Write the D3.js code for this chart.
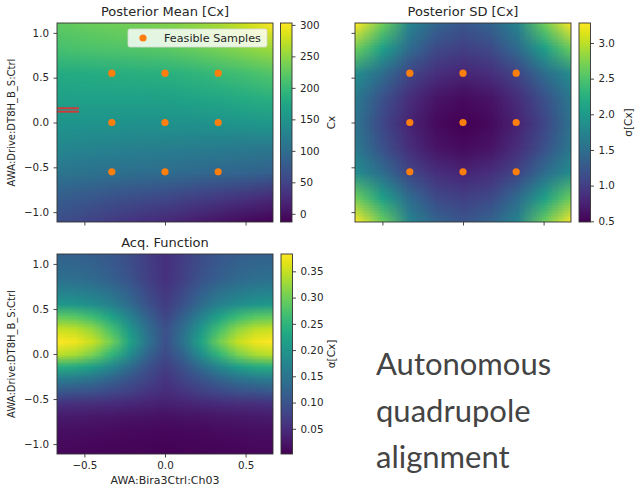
<!DOCTYPE html>
<html><head><meta charset="utf-8">
<script src="https://cdn.jsdelivr.net/npm/d3@7"></script>
<style>
body{margin:0;background:#fff}
svg{display:block}
text{font-family:"DejaVu Sans",sans-serif;fill:#262626}
</style>
</head><body>
<svg id="c" width="641" height="491"></svg>
<script>
// ---------- data ----------
const xDomain = [-0.67, 0.67];
const yDomain = [-1.11, 1.11];
const xNodes = [-0.67, -0.5025, -0.335, -0.1675, 0, 0.1675, 0.335, 0.5025, 0.67];
const yNodes = [1.11, 0.8325, 0.555, 0.2775, 0, -0.2775, -0.555, -0.8325, -1.11];
const meanGrid = [
  [225, 229, 233, 237, 242, 250, 262, 280, 303],
  [210, 213, 216, 219, 222, 229, 238, 248, 258],
  [180, 182, 184, 186, 188, 193, 200, 209, 218],
  [165, 166, 167, 167, 168, 171, 175, 181, 188],
  [152, 150, 149, 148, 147, 148, 150, 153, 157],
  [133, 130, 127, 124, 122, 120, 118, 116, 114],
  [110, 106, 103, 100, 97, 94, 90, 87, 83],
  [80, 74, 67, 61, 55, 48, 40, 32, 24],
  [60, 50, 41, 31, 22, 12, 3, -6, -13]
];
const sdGrid = [
  [3.28, 2.65, 1.75, 1.38, 1.24, 1.38, 1.75, 2.65, 3.28],
  [2.65, 2.05, 1.45, 1.12, 1.02, 1.12, 1.45, 2.05, 2.65],
  [1.85, 1.48, 1.07, 0.87, 0.78, 0.87, 1.07, 1.48, 1.85],
  [1.62, 1.18, 0.86, 0.64, 0.57, 0.64, 0.86, 1.18, 1.62],
  [1.55, 1.08, 0.77, 0.56, 0.49, 0.56, 0.77, 1.08, 1.55],
  [1.62, 1.18, 0.86, 0.64, 0.57, 0.64, 0.86, 1.18, 1.62],
  [1.85, 1.48, 1.07, 0.87, 0.78, 0.87, 1.07, 1.48, 1.85],
  [2.65, 2.05, 1.45, 1.12, 1.02, 1.12, 1.45, 2.05, 2.65],
  [3.28, 2.65, 1.75, 1.38, 1.24, 1.38, 1.75, 2.65, 3.28]
];
const acqXNodes = [-0.67, -0.558, -0.447, -0.335, -0.223, -0.112, 0, 0.112, 0.223, 0.335, 0.447, 0.558, 0.67];
const acqYNodes = [1.11, 0.971, 0.833, 0.694, 0.555, 0.416, 0.278, 0.139, 0, -0.139, -0.278, -0.416, -0.555, -0.694, -0.833, -0.971, -1.11];
const acqGrid = [
  [0.120, 0.120, 0.115, 0.105, 0.090, 0.070, 0.055, 0.070, 0.090, 0.105, 0.115, 0.120, 0.120],
  [0.130, 0.128, 0.122, 0.110, 0.094, 0.072, 0.055, 0.072, 0.094, 0.110, 0.122, 0.128, 0.130],
  [0.143, 0.140, 0.132, 0.118, 0.100, 0.075, 0.055, 0.075, 0.100, 0.118, 0.132, 0.140, 0.143],
  [0.170, 0.167, 0.158, 0.142, 0.118, 0.087, 0.062, 0.087, 0.118, 0.142, 0.158, 0.167, 0.170],
  [0.205, 0.200, 0.188, 0.166, 0.135, 0.098, 0.070, 0.098, 0.135, 0.166, 0.188, 0.200, 0.205],
  [0.290, 0.284, 0.262, 0.222, 0.172, 0.120, 0.082, 0.120, 0.172, 0.222, 0.262, 0.284, 0.290],
  [0.352, 0.345, 0.320, 0.270, 0.205, 0.140, 0.095, 0.140, 0.205, 0.270, 0.320, 0.345, 0.352],
  [0.383, 0.375, 0.350, 0.300, 0.225, 0.150, 0.095, 0.150, 0.225, 0.300, 0.350, 0.375, 0.383],
  [0.345, 0.335, 0.305, 0.255, 0.190, 0.125, 0.088, 0.125, 0.190, 0.255, 0.305, 0.335, 0.345],
  [0.240, 0.233, 0.212, 0.178, 0.136, 0.098, 0.072, 0.098, 0.136, 0.178, 0.212, 0.233, 0.240],
  [0.160, 0.155, 0.142, 0.122, 0.100, 0.080, 0.060, 0.080, 0.100, 0.122, 0.142, 0.155, 0.160],
  [0.105, 0.100, 0.095, 0.085, 0.075, 0.060, 0.050, 0.060, 0.075, 0.085, 0.095, 0.100, 0.105],
  [0.055, 0.052, 0.050, 0.047, 0.043, 0.038, 0.035, 0.038, 0.043, 0.047, 0.050, 0.052, 0.055],
  [0.030, 0.028, 0.027, 0.025, 0.022, 0.020, 0.018, 0.020, 0.022, 0.025, 0.027, 0.028, 0.030],
  [0.018, 0.017, 0.016, 0.014, 0.012, 0.011, 0.010, 0.011, 0.012, 0.014, 0.016, 0.017, 0.018],
  [0.012, 0.011, 0.010, 0.009, 0.008, 0.007, 0.006, 0.007, 0.008, 0.009, 0.010, 0.011, 0.012],
  [0.010, 0.009, 0.008, 0.007, 0.006, 0.005, 0.004, 0.005, 0.006, 0.007, 0.008, 0.009, 0.010]
];
const sampleX = [-0.33, 0, 0.33];
const sampleY = [0.55, 0, -0.55];
const xTicks = [-0.5, 0, 0.5];
const yTicks = [-1, -0.5, 0, 0.5, 1];
const meanTicks = [0, 50, 100, 150, 200, 250, 300];
const sdTicks = [0.5, 1.0, 1.5, 2.0, 2.5, 3.0];
const acqTicks = [0.05, 0.10, 0.15, 0.20, 0.25, 0.30, 0.35];
const meanRange = [-13, 303];
const sdRange = [0.49, 3.28];
const acqRange = [0.002, 0.383];
const titles = ["Posterior Mean [Cx]", "Posterior SD [Cx]", "Acq. Function"];
const cbLabels = ["Cx", "σ[Cx]", "α[Cx]"];
const xLabel = "AWA:Bira3Ctrl:Ch03";
const yLabel = "AWA:Drive:DT8H_B_S:Ctrl";
const legendLabel = "Feasible Samples";
const markerY = [0.159, 0.121];
const markerX = [-0.67, -0.534];
const textLines = ["Autonomous", "quadrupole", "alignment"];

// ---------- drawing ----------
const svg = d3.select("#c");
const defs = svg.append("defs");
const grad = defs.append("linearGradient").attr("id", "vir")
  .attr("x1", 0).attr("y1", 1).attr("x2", 0).attr("y2", 0);
d3.range(0, 1.0001, 0.05).forEach(t => grad.append("stop")
  .attr("offset", t).attr("stop-color", d3.interpolateViridis(t)));

const samples = [];
sampleY.forEach(yv => sampleX.forEach(xv => samples.push([xv, yv])));

function heat(g, x, y, xs, ys, grid, color, clipId) {
  const nx = xs.length, ny = ys.length;
  const cv = document.createElement("canvas");
  cv.width = nx; cv.height = ny;
  const ctx = cv.getContext("2d");
  const img = ctx.createImageData(nx, ny);
  grid.forEach((row, j) => row.forEach((v, i) => {
    const c = d3.rgb(color(v)); const k = (j * nx + i) * 4;
    img.data[k] = c.r; img.data[k + 1] = c.g; img.data[k + 2] = c.b; img.data[k + 3] = 255;
  }));
  ctx.putImageData(img, 0, 0);
  const dx = Math.abs(x(xs[1]) - x(xs[0])) / 2;
  const dy = Math.abs(y(ys[1]) - y(ys[0])) / 2;
  g.append("image").attr("href", cv.toDataURL())
    .attr("x", x(xs[0]) - dx).attr("y", y(ys[0]) - dy)
    .attr("width", x(xs[nx - 1]) - x(xs[0]) + 2 * dx)
    .attr("height", y(ys[ny - 1]) - y(ys[0]) + 2 * dy)
    .attr("preserveAspectRatio", "none")
    .attr("clip-path", `url(#${clipId})`);
}

function styleAxis(a) {
  a.select(".domain").remove();
  a.selectAll(".tick line").attr("stroke", "#333").attr("stroke-width", 0.9);
  a.selectAll(".tick text").attr("font-size", 10.3).attr("fill", "#262626")
    .attr("font-family", "DejaVu Sans, sans-serif");
}

function panel(opt) {
  const {x0, x1, y0, y1, cb0, cb1, xs, ys, grid, range, ticks, tfmt, title, cbLabel, yLab, xLab, pts, id} = opt;
  const x = d3.scaleLinear().domain(xDomain).range([x0, x1]);
  const y = d3.scaleLinear().domain(yDomain).range([y1, y0]);
  const color = d3.scaleSequential(d3.interpolateViridis).domain(range);
  defs.append("clipPath").attr("id", id).append("rect")
    .attr("x", x0).attr("y", y0).attr("width", x1 - x0).attr("height", y1 - y0);
  const g = svg.append("g");
  heat(g, x, y, xs, ys, grid, color, id);
  if (opt.marker) {
    markerY.forEach(mv => g.append("line")
      .attr("x1", x(markerX[0])).attr("x2", x(markerX[1]))
      .attr("y1", y(mv)).attr("y2", y(mv))
      .attr("stroke", "#d03a3a").attr("stroke-width", 2));
  }
  if (pts) {
    g.selectAll("circle.s").data(samples).join("circle").attr("class", "s")
      .attr("cx", d => x(d[0])).attr("cy", d => y(d[1])).attr("r", 3.6)
      .attr("fill", "#ff7f0e");
  }
  g.append("rect").attr("x", x0).attr("y", y0).attr("width", x1 - x0).attr("height", y1 - y0)
    .attr("fill", "none").attr("stroke", "#333").attr("stroke-width", 0.9);
  const ay = g.append("g").attr("transform", `translate(${x0},0)`)
    .call(d3.axisLeft(y).tickValues(yTicks).tickSize(3.5).tickPadding(4.5)
      .tickFormat(yLab ? d3.format(".1f") : () => ""));
  styleAxis(ay);
  const ax = g.append("g").attr("transform", `translate(0,${y1})`)
    .call(d3.axisBottom(x).tickValues(xTicks).tickSize(3.5).tickPadding(4)
      .tickFormat(xLab ? d3.format(".1f") : () => ""));
  styleAxis(ax);
  g.append("text").attr("x", (x0 + x1) / 2).attr("y", y0 - 7).attr("text-anchor", "middle")
    .attr("font-size", 13).text(title);
  if (yLab) {
    g.append("text").attr("transform", `translate(${x0 - 46},${(y0 + y1) / 2}) rotate(-90)`)
      .attr("text-anchor", "middle").attr("dy", "0.35em").attr("font-size", 10).text(yLabel);
  }
  if (xLab) {
    g.append("text").attr("x", (x0 + x1) / 2).attr("y", y1 + 30).attr("text-anchor", "middle")
      .attr("font-size", 11).text(xLabel);
  }
  // colorbar
  const cy = d3.scaleLinear().domain(range).range([y1, y0]);
  g.append("rect").attr("x", cb0).attr("y", y0).attr("width", cb1 - cb0).attr("height", y1 - y0)
    .attr("fill", "url(#vir)").attr("stroke", "#333").attr("stroke-width", 0.9);
  const ac = g.append("g").attr("transform", `translate(${cb1},0)`)
    .call(d3.axisRight(cy).tickValues(ticks).tickSize(3.5).tickPadding(4.5).tickFormat(d3.format(tfmt)));
  styleAxis(ac);
  g.append("text").attr("transform", `translate(${opt.cbLabX},${(y0 + y1) / 2}) rotate(-90)`)
    .attr("text-anchor", "middle").attr("dy", "0.35em").attr("font-size", 10.5).text(cbLabel);
  if (opt.legend) {
    const lg = g.append("g");
    lg.append("rect").attr("x", 128).attr("y", 29).attr("width", 139).attr("height", 18).attr("rx", 2)
      .attr("fill", "rgba(255,255,255,0.82)").attr("stroke", "#d8d8d8").attr("stroke-width", 0.8);
    lg.append("circle").attr("cx", 143).attr("cy", 38).attr("r", 3.6).attr("fill", "#ff7f0e");
    lg.append("text").attr("x", 164).attr("y", 38).attr("dy", "0.35em").attr("font-size", 11.2).text(legendLabel);
  }
  return g;
}

panel({id: "p1", x0: 57, x1: 273, y0: 23, y1: 222, cb0: 280.5, cb1: 292, cbLabX: 331,
  xs: xNodes, ys: yNodes, grid: meanGrid, range: meanRange, ticks: meanTicks, tfmt: "d",
  title: titles[0], cbLabel: cbLabels[0], yLab: true, xLab: false, pts: true, legend: true, marker: true});
panel({id: "p2", x0: 355, x1: 571, y0: 23, y1: 222, cb0: 579, cb1: 590.5, cbLabX: 628,
  xs: xNodes, ys: yNodes, grid: sdGrid, range: sdRange, ticks: sdTicks, tfmt: ".1f",
  title: titles[1], cbLabel: cbLabels[1], yLab: false, xLab: false, pts: true});
panel({id: "p3", x0: 57, x1: 273, y0: 254, y1: 454, cb0: 281, cb1: 292.5, cbLabX: 331,
  xs: acqXNodes, ys: acqYNodes, grid: acqGrid, range: acqRange, ticks: acqTicks, tfmt: ".2f",
  title: titles[2], cbLabel: cbLabels[2], yLab: true, xLab: true, pts: false});

svg.append("g").selectAll("text").data(textLines).join("text")
  .attr("x", 376).attr("y", (d, i) => 375 + i * 46.5)
  .style("font-family", "Lato, sans-serif").style("fill", "#444")
  .attr("font-size", 31).text(d => d);
</script>
</body></html>
